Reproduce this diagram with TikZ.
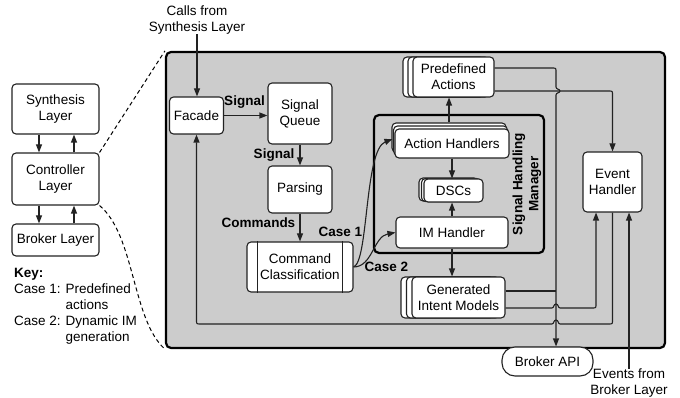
\documentclass[tikz,border=0pt]{standalone}
\usepackage{fontspec}
\setmainfont{Liberation Sans}
\usetikzlibrary{arrows.meta}
\definecolor{lc}{HTML}{222222}
\definecolor{panel}{HTML}{CCCCCC}
\begin{document}
\begin{tikzpicture}[x=1pt,y=-1pt,
  font=\fontsize{13.5}{16}\selectfont,
  box/.style={draw=lc, fill=white, rounded corners=4pt, line width=1.1pt, align=center, inner sep=0pt},
  frame/.style={draw=black, rounded corners=5pt, line width=2.2pt, inner sep=0pt},
  arr/.style={draw=lc, line width=1.1pt, -{Triangle[length=8pt,width=6pt]}},
  wire/.style={draw=lc, line width=1.1pt},
  lbl/.style={font=\fontsize{13.5}{16}\selectfont\bfseries, inner sep=0pt, align=center},
  txt/.style={inner sep=0pt, align=center},
  stk/.style 2 args={
    preaction={draw=lc, fill=white, transform canvas={shift={({2*(#1)},{2*(#2)})}}},
    preaction={draw=lc, fill=white, transform canvas={shift={(#1,#2)}}}},
  link/.style={dash pattern=on 4pt off 3pt, line width=1pt, draw=black}
]
\useasboundingbox (0,0) rectangle (680,398);

% ---- layer stack on the left
\node[box, minimum width=87pt, minimum height=50pt] (synth) at (55.5,109) {Synthesis\\Layer};
\node[box, minimum width=87pt, minimum height=52pt] (ctrl) at (55.5,179) {Controller\\Layer};
\node[box, minimum width=87pt, minimum height=32pt] (brk) at (55.5,240) {Broker Layer};
\draw[arr] ([xshift=-16.5pt]synth.south) -- ([xshift=-16.5pt]ctrl.north);
\draw[arr] ([xshift=18.5pt]ctrl.north) -- ([xshift=18.5pt]synth.south);
\draw[arr] ([xshift=-16.5pt]ctrl.south) -- ([xshift=-16.5pt]brk.north);
\draw[arr] ([xshift=18.5pt]brk.north) -- ([xshift=18.5pt]ctrl.south);

% ---- key
\node[anchor=north west, inner sep=0pt] (key) at (14,266) {%
  \renewcommand{\arraystretch}{1}%
  \begin{tabular}{@{}l@{ }l@{}}
  \multicolumn{2}{@{}l}{\textbf{Key:}}\\
  Case 1: & Predefined\\
          & actions\\
  Case 2: & Dynamic IM\\
          & generation
  \end{tabular}};

% ---- controller layer detail
\node[frame, fill=panel, minimum width=499pt, minimum height=296pt] (core) at (415.5,200) {};
\draw[link] (ctrl.north east) -- (core.north west);
\draw[link] (ctrl.south east) .. controls (135,235) and (132,320) .. (core.south west);

\node[frame, minimum width=170pt, minimum height=138pt] (shm) at (459,184) {};
\node[lbl, rotate=90] (shmlbl) at (527,184) {Signal Handling\\Manager};

\node[box, minimum width=54pt, minimum height=37pt] (facade) at (196.5,115.5) {Facade};
\node[box, minimum width=64pt, minimum height=61pt] (sq) at (300,113.5) {Signal\\Queue};
\node[box, minimum width=64pt, minimum height=47pt] (parse) at (300,189.5) {Parsing};
\node[box, minimum width=106pt, minimum height=50pt] (cc) at (300,267) {Command\\Classification};
\draw[wire] ([xshift=11pt]cc.north west) -- ([xshift=11pt]cc.south west);
\draw[wire] ([xshift=-11pt]cc.north east) -- ([xshift=-11pt]cc.south east);

\node[box, stk={-5}{0}, minimum width=81pt, minimum height=40pt] (pa) at (453.5,77) {Predefined\\Actions};
\node[box, stk={-1.5}{-3}, minimum width=114pt, minimum height=29pt] (ah) at (452,143.5) {Action Handlers};
\node[box, stk={-2.5}{-0.5}, minimum width=59pt, minimum height=23pt] (dsc) at (453.5,190.5) {DSCs};
\node[box, minimum width=112pt, minimum height=31pt] (imh) at (452,232.5) {IM Handler};
\node[box, stk={-5.5}{0}, minimum width=93pt, minimum height=41pt] (gim) at (458.5,297.5) {Generated\\Intent Models};
\node[box, minimum width=59pt, minimum height=60pt] (eh) at (612.5,182) {Event\\Handler};
\node[box, rounded corners=13pt, minimum width=91pt, minimum height=29pt] (bapi) at (547.5,361.5) {Broker API};

\node[txt] (calls) at (197,20) {Calls from\\Synthesis Layer};
\node[txt] (events) at (629,383) {Events from\\Broker Layer};

\coordinate (bx) at (556,0);

% ---- signal path
\draw[arr] (calls.south) -- (calls.south |- facade.north);
\draw[arr] (facade.east) -- (facade.east -| sq.west);
\node[lbl] (sig1) at (244.5,102) {Signal};
\draw[arr] (sq.south) -- (parse.north);
\node[lbl] (sig2) at (274,155) {Signal};
\draw[arr] (parse.south) -- (cc.north);
\node[lbl] (cmds) at (258.5,223) {Commands};

\draw[arr] (cc.east) .. controls +(15,-5) and +(-28,11) .. ([shift={(-2pt,4.5pt)}]ah.west);
\node[lbl] (case1) at (340.5,232) {Case 1};
\draw[arr] (cc.east) .. controls +(19,0) and +(-22,4) .. (imh.west);
\node[lbl] (case2) at (386.5,267) {Case 2};

\draw[arr] ([shift={(-3pt,6pt)}]ah.north) -- ([xshift=-3pt]ah.north |- pa.south);
\draw[arr] (ah.south) -- (ah.south |- dsc.north);
\draw[arr] (imh.north) -- (imh.north |- dsc.south);
\draw[arr] (imh.south) -- (imh.south |- gim.north);

% ---- outputs of the action stores (corners and line hops drawn as curves)
\draw[arr] ([yshift=9pt]pa.east) -- (552,68) .. controls (556,68) .. (556,72) -- (556,87)
  .. controls (556,89.5) and (560,89) .. (560,91)
  .. controls (560,93) and (556,92.5) .. (556,95)
  -- (bx |- bapi.north);
\draw[arr] ([yshift=-14pt]pa.east) -- (608.5,91) .. controls (612.5,91) .. (612.5,95) -- (eh.north);

\draw[wire] ([yshift=6.5pt]gim.east) -- ([yshift=6.5pt]gim.east -| bx);
\draw[arr] ([yshift=-10.5pt]gim.east) -- (552,308)
  .. controls (554,308) and (553.5,304) .. (556,304)
  .. controls (558.5,304) and (558,308) .. (560,308)
  -- (592,308) .. controls (596,308) .. (596,304)
  -- ([xshift=-16.5pt]eh.south);

\draw[arr] (eh.south) -- (612.5,320) .. controls (612.5,324) .. (608.5,324) -- (560,324)
  .. controls (558,324) and (558.5,320) .. (556,320)
  .. controls (553.5,320) and (554,324) .. (552,324)
  -- (200.5,324) .. controls (196.5,324) .. (196.5,320) -- (facade.south);

\draw[arr] (events.north) -- (events.north |- eh.south);
\end{tikzpicture}
\end{document}
